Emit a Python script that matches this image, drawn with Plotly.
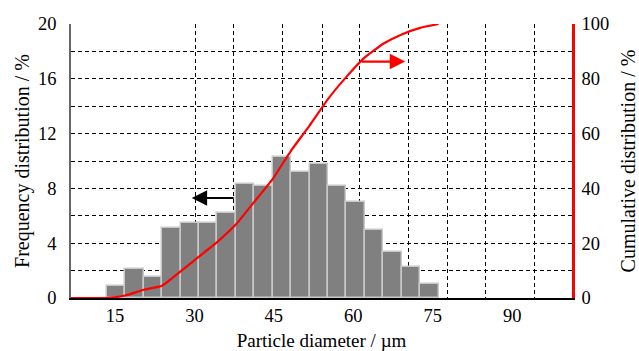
import plotly.graph_objects as go

# ---- data ----
bin_centers = [15.2, 18.68, 22.16, 25.64, 29.12, 32.6, 36.08, 39.56, 43.04, 46.52,
               50.0, 53.48, 56.96, 60.44, 63.92, 67.4, 70.88, 74.36]
frequency = [0.9, 2.1, 1.5, 5.1, 5.5, 5.5, 6.2, 8.3, 8.2, 10.3,
             9.2, 9.8, 8.2, 7.0, 5.0, 3.35, 2.25, 1.05]
bin_width = 3.48

cum_x = [6.7, 13.46, 16.94, 20.42, 23.9, 27.38, 30.86, 34.34, 37.82, 41.3,
         44.78, 48.26, 51.74, 55.22, 58.7, 62.18, 65.66, 69.14, 72.62, 76.1]
cumulative = [0, 0, 0.9, 3.0, 4.5, 9.7, 15.1, 20.5, 26.8, 35.1,
              43.4, 53.8, 62.9, 72.6, 80.7, 87.8, 92.8, 96.2, 98.6, 100]

x_ticks = [15, 30, 45, 60, 75, 90]
x_range = [6.7, 101.3]
vertical_grid = [30.3, 37.3, 46.7, 54.1, 61.1, 70.5, 77.7, 84.9, 94.3]
freq_ticks = [0, 4, 8, 12, 16, 20]
cum_ticks = [0, 20, 40, 60, 80, 100]

# arrow annotations (tip, tail) in data units
black_arrow = dict(tip=(29.5, 7.3), tail=(37.7, 7.3))
red_arrow = dict(tip=(69.8, 86.3), tail=(61.3, 86.3))

FONT = "Liberation Serif"
DASH = "4px,3px"

fig = go.Figure()
fig.add_trace(go.Bar(
    x=bin_centers, y=frequency, width=bin_width,
    marker=dict(color="#808080", line=dict(color="#c8c8c8", width=1.5)),
    xaxis="x", yaxis="y", showlegend=False,
))
fig.add_trace(go.Scatter(
    x=cum_x, y=cumulative, mode="lines",
    line=dict(color="#ff0000", width=2.2, shape="spline", smoothing=0.4),
    xaxis="x2", yaxis="y2", showlegend=False, cliponaxis=False,
))

fig.update_layout(
    width=639, height=351,
    margin=dict(l=71, r=67, t=24, b=53),
    paper_bgcolor="white", plot_bgcolor="white",
    font=dict(family=FONT, size=18, color="black"),
    bargap=0,
    xaxis=dict(
        range=x_range, tickvals=x_ticks, ticks="", showgrid=False, zeroline=False,
        showline=True, linecolor="black", linewidth=1.5, automargin=False,
        title=dict(text="Particle diameter / µm", font=dict(size=19), standoff=11),
        tickfont=dict(size=18.5),
    ),
    xaxis2=dict(
        range=x_range, overlaying="x", side="bottom", tickvals=vertical_grid,
        showticklabels=False, ticks="", showgrid=True, gridcolor="black",
        gridwidth=1, griddash=DASH, zeroline=False, showline=False, automargin=False,
    ),
    yaxis=dict(
        range=[0, 20], tickvals=freq_ticks, ticks="", zeroline=False,
        showgrid=True, gridcolor="black", gridwidth=1, griddash=DASH,
        minor=dict(dtick=2, showgrid=True, gridcolor="black", gridwidth=1, griddash=DASH),
        showline=True, linecolor="#666666", linewidth=1.5, automargin=False,
        ticklabelstandoff=9,
        title=dict(text="Frequency distribution / %", font=dict(size=20), standoff=3),
        tickfont=dict(size=18.5),
    ),
    yaxis2=dict(
        range=[0, 100], tickvals=cum_ticks, overlaying="y", side="right", anchor="x2",
        ticks="", showgrid=False, zeroline=False, automargin=False,
        showline=True, linecolor="#ff0000", linewidth=2.5, ticklabelstandoff=3,
        title=dict(text="Cumulative distribution / %", font=dict(size=20), standoff=19),
        tickfont=dict(size=18.5),
    ),
)

fig.add_annotation(
    x=black_arrow["tip"][0], y=black_arrow["tip"][1],
    ax=black_arrow["tail"][0], ay=black_arrow["tail"][1],
    xref="x", yref="y", axref="x", ayref="y", text="",
    showarrow=True, arrowhead=2, arrowsize=1.4, arrowwidth=2.2, arrowcolor="black",
)
fig.add_annotation(
    x=red_arrow["tip"][0], y=red_arrow["tip"][1],
    ax=red_arrow["tail"][0], ay=red_arrow["tail"][1],
    xref="x2", yref="y2", axref="x2", ayref="y2", text="",
    showarrow=True, arrowhead=2, arrowsize=1.4, arrowwidth=2.2, arrowcolor="#ff0000",
)

fig.write_html("out.html", config={"displayModeBar": False},
               post_script="document.body.style.margin='0';")
